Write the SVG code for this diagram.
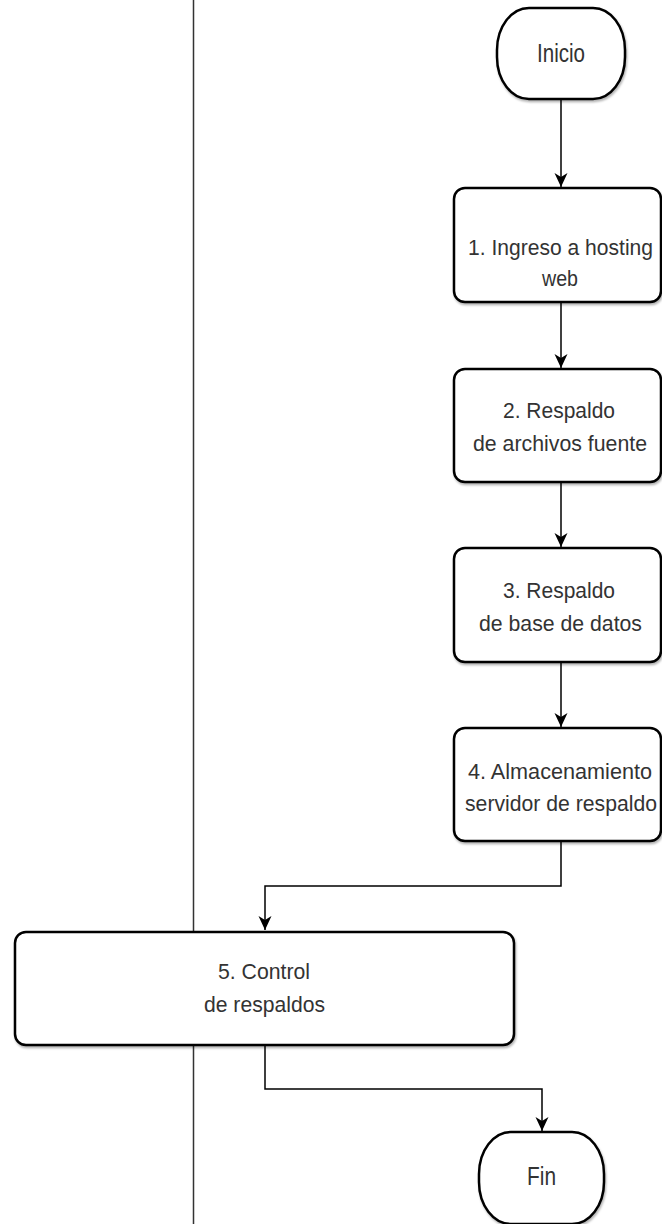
<svg xmlns="http://www.w3.org/2000/svg" width="662" height="1224" viewBox="0 0 662 1224">
<style>
.node{fill:#fff;stroke:#000;stroke-width:2.5}
.t{font-family:"Liberation Sans",Arial,sans-serif;font-size:22px;fill:#333;text-anchor:middle}
.tt{font-size:25px}
.edge{fill:none;stroke:#000;stroke-width:1.5}
.lane{stroke:#333;stroke-width:1.5}
</style>
<defs>
<filter id="sh" x="-10%" y="-10%" width="120%" height="130%">
<feDropShadow dx="1" dy="2" stdDeviation="1" flood-color="#000" flood-opacity="0.3"/>
</filter>
<marker id="arr" markerUnits="userSpaceOnUse" markerWidth="16" markerHeight="16" viewBox="-15 -8 16 16" refX="0" refY="0" orient="auto">
<path d="M0,0 L-14,-6.5 L-10,0 L-14,6.5 Z" fill="#000"/>
</marker>
</defs>
<line class="lane" x1="193.5" y1="0" x2="193.5" y2="1224"/>
<g id="connectors">
<path class="edge" marker-end="url(#arr)" d="M561,99 V187"/>
<path class="edge" marker-end="url(#arr)" d="M561,302 V368"/>
<path class="edge" marker-end="url(#arr)" d="M561,482 V547"/>
<path class="edge" marker-end="url(#arr)" d="M561,662 V727"/>
<path class="edge" marker-end="url(#arr)" d="M561,841 V886 H265 V930"/>
<path class="edge" marker-end="url(#arr)" d="M265,1045 V1089 H542 V1131"/>
</g>
<g id="inicio">
<rect class="node" filter="url(#sh)" x="497" y="8" width="128" height="91" rx="32" ry="42"/>
<text class="t tt" x="561" y="62" textLength="48" lengthAdjust="spacingAndGlyphs">Inicio</text>
</g>
<g id="n1">
<rect class="node" filter="url(#sh)" x="454" y="188" width="207" height="114" rx="11"/>
<text class="t" x="560.5" y="255" textLength="185" lengthAdjust="spacingAndGlyphs">1. Ingreso a hosting</text>
<text class="t" x="560" y="286" textLength="36" lengthAdjust="spacingAndGlyphs">web</text>
</g>
<g id="n2">
<rect class="node" filter="url(#sh)" x="454" y="369" width="207" height="113" rx="11"/>
<text class="t" x="559" y="418" textLength="112" lengthAdjust="spacingAndGlyphs">2. Respaldo</text>
<text class="t" x="560" y="451" textLength="174" lengthAdjust="spacingAndGlyphs">de archivos fuente</text>
</g>
<g id="n3">
<rect class="node" filter="url(#sh)" x="454" y="548" width="207" height="114" rx="11"/>
<text class="t" x="559" y="598" textLength="112" lengthAdjust="spacingAndGlyphs">3. Respaldo</text>
<text class="t" x="560.5" y="631" textLength="163" lengthAdjust="spacingAndGlyphs">de base de datos</text>
</g>
<g id="n4">
<rect class="node" filter="url(#sh)" x="454" y="728" width="207" height="113" rx="11"/>
<text class="t" x="560" y="779" textLength="184" lengthAdjust="spacingAndGlyphs">4. Almacenamiento</text>
<text class="t" x="561" y="811" textLength="192" lengthAdjust="spacingAndGlyphs">servidor de respaldo</text>
</g>
<g id="n5">
<rect class="node" filter="url(#sh)" x="15" y="932" width="499" height="113" rx="11"/>
<text class="t" x="264" y="979" textLength="92" lengthAdjust="spacingAndGlyphs">5. Control</text>
<text class="t" x="264.5" y="1012" textLength="121" lengthAdjust="spacingAndGlyphs">de respaldos</text>
</g>
<g id="fin">
<rect class="node" filter="url(#sh)" x="479" y="1132" width="125" height="92" rx="32" ry="42"/>
<text class="t tt" x="541.5" y="1185" textLength="29" lengthAdjust="spacingAndGlyphs">Fin</text>
</g>
</svg>
